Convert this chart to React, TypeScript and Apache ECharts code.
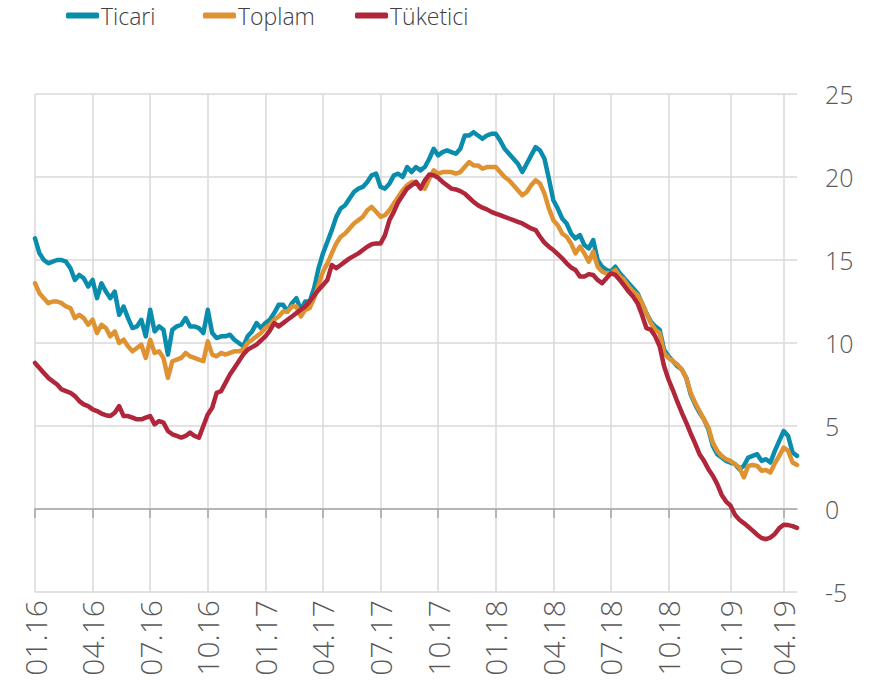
import React, { useEffect, useRef } from "react";
import * as echarts from "echarts";

// Weekly series, first week starting 2016-01-01
const startDate = "2016-01-01";

const seriesNames = ["Ticari", "Toplam", "Tüketici"];

const ticari = [
  16.3, 15.4, 15.0, 14.8, 14.9, 15.0, 15.0, 14.9, 14.5, 13.8,
  14.1, 13.9, 13.4, 13.8, 12.7, 13.6, 13.1, 12.7, 13.1, 11.7,
  12.2, 11.5, 10.9, 11.0, 11.4, 10.4, 12.0, 10.7, 11.0, 10.8,
  9.3, 10.8, 11.0, 11.1, 11.5, 11.0, 11.0, 10.9, 10.6, 12.0,
  10.6, 10.3, 10.4, 10.4, 10.5, 10.2, 10.0, 9.8, 10.4, 10.7,
  11.2, 10.9, 11.2, 11.4, 11.8, 12.3, 12.3, 11.9, 12.4, 12.7,
  12.0, 12.5, 12.5, 13.3, 14.5, 15.4, 16.1, 16.8, 17.6, 18.1,
  18.3, 18.7, 19.1, 19.3, 19.4, 19.7, 20.1, 20.2, 19.4, 19.3,
  19.6, 20.1, 20.2, 20.0, 20.6, 20.3, 20.6, 20.4, 20.6, 21.1,
  21.7, 21.3, 21.5, 21.6, 21.5, 21.4, 21.7, 22.5, 22.5, 22.7,
  22.5, 22.3, 22.5, 22.6, 22.6, 22.2, 21.7, 21.4, 21.1, 20.8,
  20.3, 20.8, 21.3, 21.8, 21.6, 21.1, 19.9, 18.6, 18.1, 17.5,
  17.2, 16.6, 16.3, 16.5, 15.9, 15.7, 16.2, 15.0, 14.6, 14.4,
  14.3, 14.6, 14.2, 13.9, 13.6, 13.3, 13.0, 12.4, 11.8, 11.3,
  11.0, 10.8, 9.6, 9.2, 8.9, 8.6, 8.4, 7.9, 6.9, 6.3,
  5.8, 5.4, 4.8, 3.8, 3.3, 3.1, 2.9, 2.8, 2.7, 2.4,
  2.6, 3.1, 3.2, 3.3, 2.9, 3.0, 2.8, 3.5, 4.1, 4.7,
  4.4, 3.4, 3.2,
];

const toplam = [
  13.6, 13.0, 12.7, 12.4, 12.5, 12.5, 12.4, 12.2, 12.1, 11.5,
  11.7, 11.5, 11.1, 11.4, 10.6, 11.1, 10.9, 10.4, 10.7, 10.0,
  10.2, 9.8, 9.5, 9.7, 9.9, 9.1, 10.2, 9.4, 9.5, 9.1,
  7.9, 8.9, 9.0, 9.1, 9.4, 9.2, 9.1, 9.0, 8.9, 10.1,
  9.3, 9.2, 9.4, 9.3, 9.4, 9.5, 9.5, 9.6, 10.0, 10.2,
  10.4, 10.6, 10.9, 11.1, 11.4, 11.6, 11.9, 11.9, 12.2, 12.2,
  11.6, 12.0, 12.1, 12.7, 13.5, 14.3, 14.8, 15.4, 16.0, 16.4,
  16.6, 16.9, 17.2, 17.4, 17.6, 18.0, 18.2, 17.9, 17.6, 17.7,
  18.0, 18.4, 18.8, 19.2, 19.5, 19.7, 19.7, 19.4, 19.3, 19.9,
  20.4, 20.2, 20.3, 20.3, 20.3, 20.2, 20.3, 20.6, 20.9, 20.7,
  20.7, 20.5, 20.6, 20.6, 20.6, 20.3, 20.0, 19.8, 19.5, 19.2,
  18.9, 19.1, 19.5, 19.8, 19.6, 19.0, 18.1, 17.4, 17.1, 16.6,
  16.4, 16.0, 15.4, 15.8, 15.4, 14.9, 15.5, 14.6, 14.3, 14.2,
  14.2, 14.4, 14.0, 13.8, 13.4, 13.1, 12.9, 12.4, 11.8, 11.2,
  10.8, 10.6, 9.4, 9.1, 8.9, 8.7, 8.4, 7.9, 7.0, 6.4,
  5.9, 5.4, 4.9, 4.0, 3.5, 3.2, 3.0, 2.9, 2.7, 2.5,
  1.9, 2.6, 2.65, 2.6, 2.3, 2.35, 2.2, 2.75, 3.2, 3.7,
  3.5, 2.8, 2.65,
];

const tuketici = [
  8.8, 8.5, 8.2, 7.9, 7.7, 7.5, 7.2, 7.1, 7.0, 6.8,
  6.5, 6.3, 6.2, 6.0, 5.9, 5.75, 5.65, 5.6, 5.8, 6.2,
  5.6, 5.6, 5.5, 5.4, 5.4, 5.5, 5.6, 5.1, 5.3, 5.2,
  4.7, 4.5, 4.4, 4.3, 4.4, 4.6, 4.4, 4.3, 5.0, 5.7,
  6.1, 7.0, 7.1, 7.6, 8.1, 8.5, 8.9, 9.3, 9.6, 9.75,
  9.9, 10.15, 10.4, 10.75, 11.2, 11.0, 11.2, 11.4, 11.6, 11.8,
  12.0, 12.2, 12.5, 12.85, 13.2, 13.5, 13.8, 14.7, 14.5, 14.7,
  14.9, 15.1, 15.25, 15.4, 15.6, 15.8, 15.95, 16.0, 16.0, 16.5,
  17.4, 17.9, 18.5, 18.9, 19.3, 19.5, 19.7, 19.3, 19.8, 20.15,
  20.1, 19.95, 19.7, 19.5, 19.3, 19.25, 19.15, 19.0, 18.75, 18.5,
  18.3, 18.15, 18.05, 17.9, 17.8, 17.7, 17.6, 17.5, 17.4, 17.3,
  17.2, 17.05, 16.9, 16.8, 16.4, 16.05, 15.8, 15.6, 15.35, 15.1,
  14.8, 14.55, 14.4, 14.0, 14.0, 14.15, 14.1, 13.8, 13.6, 13.9,
  14.2, 14.1, 13.8, 13.45, 13.1, 12.8, 12.4, 11.7, 10.9, 10.8,
  10.4, 9.8, 8.6, 7.8, 7.15, 6.45, 5.8, 5.2, 4.55, 3.95,
  3.3, 2.9, 2.4, 2.0, 1.5, 0.85, 0.45, 0.2, -0.35, -0.65,
  -0.85, -1.07, -1.3, -1.55, -1.75, -1.82, -1.72, -1.5, -1.15, -0.95,
  -0.97, -1.03, -1.14,
];

const tickLabels = [
  "01.16", "04.16", "07.16", "10.16",
  "01.17", "04.17", "07.17", "10.17",
  "01.18", "04.18", "07.18", "10.18",
  "01.19", "04.19",
];

const yTicks = { min: -5, max: 25, interval: 5 };

const colors = ["#0A8DAD", "#DF9232", "#B0263A"];

const DAY = 86400000;
const startMs = Date.parse(startDate + "T00:00:00Z");

const weeks = ticari.map((_, i) => {
  const d = new Date(startMs + i * 7 * DAY);
  return d.toISOString().slice(0, 10);
});

const labelByIndex: Record<number, string> = {};
tickLabels.forEach((lab) => {
  const m = parseInt(lab.slice(0, 2), 10);
  const y = 2000 + parseInt(lab.slice(3), 10);
  const days = (Date.UTC(y, m - 1, 1) - startMs) / DAY;
  labelByIndex[Math.round(days / 7)] = lab;
});
const isTick = (idx: number) => labelByIndex[idx] !== undefined;

const FONT = "'Open Sans', 'Noto Sans', sans-serif";

export default function App() {
  const ref = useRef<HTMLDivElement>(null);
  useEffect(() => {
    if (!ref.current) return;
    const chart = echarts.init(ref.current, null, { renderer: "svg" });
    const legendBase = {
      top: 4,
      padding: 0,
      icon: "roundRect",
      itemWidth: 33,
      itemHeight: 6,
      itemGap: 0,
      textStyle: {
        fontSize: 23,
        color: "#404040",
        fontFamily: FONT,
        fontWeight: 300 as any,
        padding: [0, 0, 0, -3],
      },
      selectedMode: false as any,
    };
    chart.setOption({
      animation: false,
      color: colors,
      legend: [
        { ...legendBase, left: 66, data: [seriesNames[0]] },
        { ...legendBase, left: 203, data: [seriesNames[1]] },
        { ...legendBase, left: 355, data: [seriesNames[2]] },
      ],
      grid: { left: 35, right: 79, top: 94, bottom: 90, containLabel: false },
      xAxis: [
        {
          type: "category",
          data: weeks,
          boundaryGap: false,
          position: "bottom",
          axisLine: { onZero: true, lineStyle: { color: "#a6a6a6", width: 1.5 } },
          axisTick: {
            show: true,
            length: 9,
            interval: (i: number) => isTick(i),
            lineStyle: { color: "#a6a6a6", width: 1.5 },
          },
          axisLabel: { show: false },
          splitLine: {
            show: true,
            interval: (i: number) => isTick(i),
            lineStyle: { color: "#d9d9d9", width: 1.5 },
          },
        },
        {
          type: "category",
          data: weeks,
          boundaryGap: false,
          position: "bottom",
          axisLine: { show: false, onZero: false },
          axisTick: { show: false },
          splitLine: { show: false },
          axisLabel: {
            show: true,
            rotate: 90,
            margin: 8,
            interval: (i: number) => isTick(i),
            formatter: (_v: string, i: number) => labelByIndex[i] ?? "",
            fontSize: 30,
            color: "#595959",
            fontFamily: FONT,
            fontWeight: 300,
          },
        },
      ],
      yAxis: {
        type: "value",
        position: "right",
        min: yTicks.min,
        max: yTicks.max,
        interval: yTicks.interval,
        axisLine: { show: false },
        axisTick: { show: false },
        axisLabel: {
          margin: 28,
          fontSize: 25,
          color: "#595959",
          fontFamily: FONT,
          fontWeight: 300,
        },
        splitLine: { lineStyle: { color: "#d9d9d9", width: 1.5 } },
      },
      series: [ticari, toplam, tuketici].map((d, k) => ({
        name: seriesNames[k],
        type: "line",
        xAxisIndex: 0,
        data: d,
        showSymbol: false,
        symbol: "none",
        lineStyle: { width: 4.5, color: colors[k], cap: "round", join: "round" },
        itemStyle: { color: colors[k] },
      })),
    });
    return () => chart.dispose();
  }, []);
  return (
    <div
      ref={ref}
      style={{ position: "absolute", left: 0, top: 0, width: 876, height: 682 }}
    />
  );
}
